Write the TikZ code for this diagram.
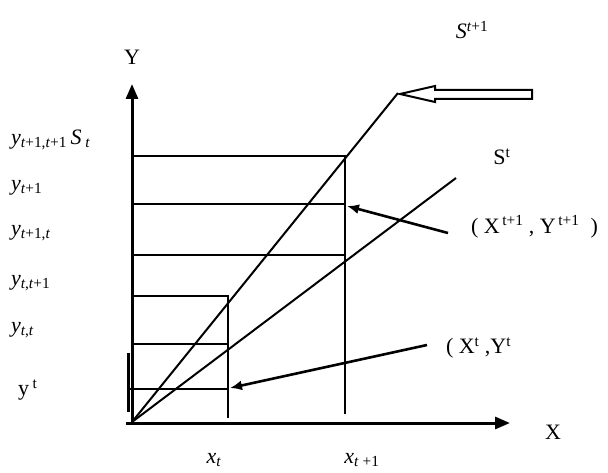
\documentclass[tikz,border=0pt]{standalone}
\usepackage{fontspec}
\setmainfont{Liberation Serif}
\usetikzlibrary{arrows.meta}
\tikzset{
  every picture/.style={line width=2pt, x=1pt, y=-1pt},
  axis/.style={line width=3pt, -{Triangle[length=15pt, width=12pt]}},
  level/.style={line width=2pt},
  ray/.style={line width=2pt},
  pointer/.style={line width=2.6pt, -{Latex[length=12pt, width=10pt]}},
  lab/.style={font=\fontsize{22}{25}\selectfont, inner sep=0pt},
}
\newcommand{\iv}[1]{\textit{#1}}

\begin{document}
\begin{tikzpicture}
  \useasboundingbox (0,0) rectangle (608,473);
  \coordinate (O) at (132,422);
  \coordinate (xend) at (510,423);
  \coordinate (yend) at (132,84);

  % axes
  \draw[axis] (126,423) -- (xend);
  \draw[axis] (132,425) -- (yend);
  \draw[line width=3pt] (128,353) -- (128,412);

  % levels
  \draw[level] (132,156) -| (345,414);
  \draw[level] (132,204) -- (345,204);
  \draw[level] (132,255) -- (345,255);
  \draw[level] (132,296) -| (228,418);
  \draw[level] (132,344) -- (228,344);
  \draw[level] (127,389) -- (228,389);

  % rays
  \coordinate (s1) at (398,93);
  \coordinate (s0) at (456,178);
  \draw[ray] (O) -- (s1);
  \draw[ray] (O) -- (s0);

  % hollow arrow
  \draw[line width=2pt, fill=white] (400,94) -- (435,86) -- (435,90) -- (532,90)
    -- (532,99) -- (435,99) -- (435,102) -- cycle;

  % pointers
  \coordinate (p1) at (448,233);
  \coordinate (q1) at (347,206);
  \coordinate (p0) at (427,345);
  \coordinate (q0) at (230,388);
  \draw[pointer] (p1) -- (q1);
  \draw[pointer] (p0) -- (q0);

  % labels
  \node[lab] (ylab) at (132,57) {Y};
  \node[lab] (xlab) at (553,432) {X};
  \node[lab] (xt) at (214,460) {\iv{x}\textsubscript{\iv{t}}};
  \node[lab] (xt1) at (362,460) {\iv{x}\textsubscript{\iv{t} +1}};

  \node[lab, anchor=west] (l1) at (10,140) {\iv{y}\textsubscript{\iv{t}+1,\iv{t}+1}\,\iv{S}\,\textsubscript{\iv{t}}};
  \node[lab, anchor=west] (l2) at (10,188) {\iv{y}\textsubscript{\iv{t}+1}};
  \node[lab, anchor=west] (l3) at (10,233) {\iv{y}\textsubscript{\iv{t}+1,\iv{t}}};
  \node[lab, anchor=west] (l4) at (10,283) {\iv{y}\textsubscript{\iv{t},\iv{t}+1}};
  \node[lab, anchor=west] (l5) at (10,330) {\iv{y}\textsubscript{\iv{t},\iv{t}}};
  \node[lab, anchor=west] (l6) at (17,390) {y\,\textsuperscript{t}};

  \node[lab] (st1) at (472,30) {\iv{S}\textsuperscript{\iv{t}+1}};
  \node[lab] (st) at (502,157) {S\textsuperscript{t}};
  \node[lab, anchor=west] (pt1) at (470,227) {(~X\textsuperscript{\,t+1}~,~Y\textsuperscript{\,t+1}~~)};
  \node[lab, anchor=west] (pt) at (445,348) {(~X\textsuperscript{t}~,Y\textsuperscript{t}};
\end{tikzpicture}
\end{document}
